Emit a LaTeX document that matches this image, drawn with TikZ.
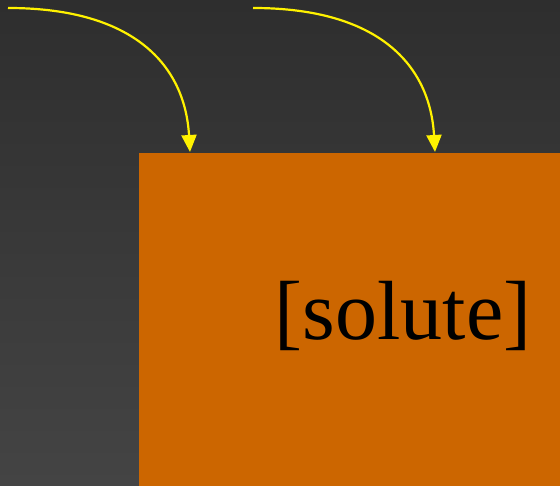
\documentclass[tikz,border=0pt]{standalone}
\usepackage{fontspec}
\setmainfont{Liberation Serif}
\usetikzlibrary{arrows.meta}
\definecolor{bgtop}{HTML}{2E2E2E}
\definecolor{bgbottom}{HTML}{444444}
\definecolor{soluteorange}{HTML}{CC6600}

\begin{document}
\begin{tikzpicture}[x=1pt, y=1pt,
  flow/.style={yellow, line width=2.2pt, -{Triangle[length=17pt, width=15pt]}}]
  \shade[top color=bgtop, bottom color=bgbottom] (0,0) rectangle (560,486);
  \useasboundingbox (0,0) rectangle (560,486);
  \coordinate (A) at (8,478);
  \coordinate (B) at (253,478);
  \coordinate (P) at (190,334);
  \coordinate (Q) at (435,334);
  \fill[soluteorange] (139,0) rectangle (560,333);
  \node[anchor=base, font=\fontsize{84}{92}\selectfont] (solute) at (403,146) {[solute]};
  \draw[flow] (A) .. controls (135,478) and (185,420) .. (P);
  \draw[flow] (B) .. controls (380,478) and (430,420) .. (Q);
\end{tikzpicture}
\end{document}
